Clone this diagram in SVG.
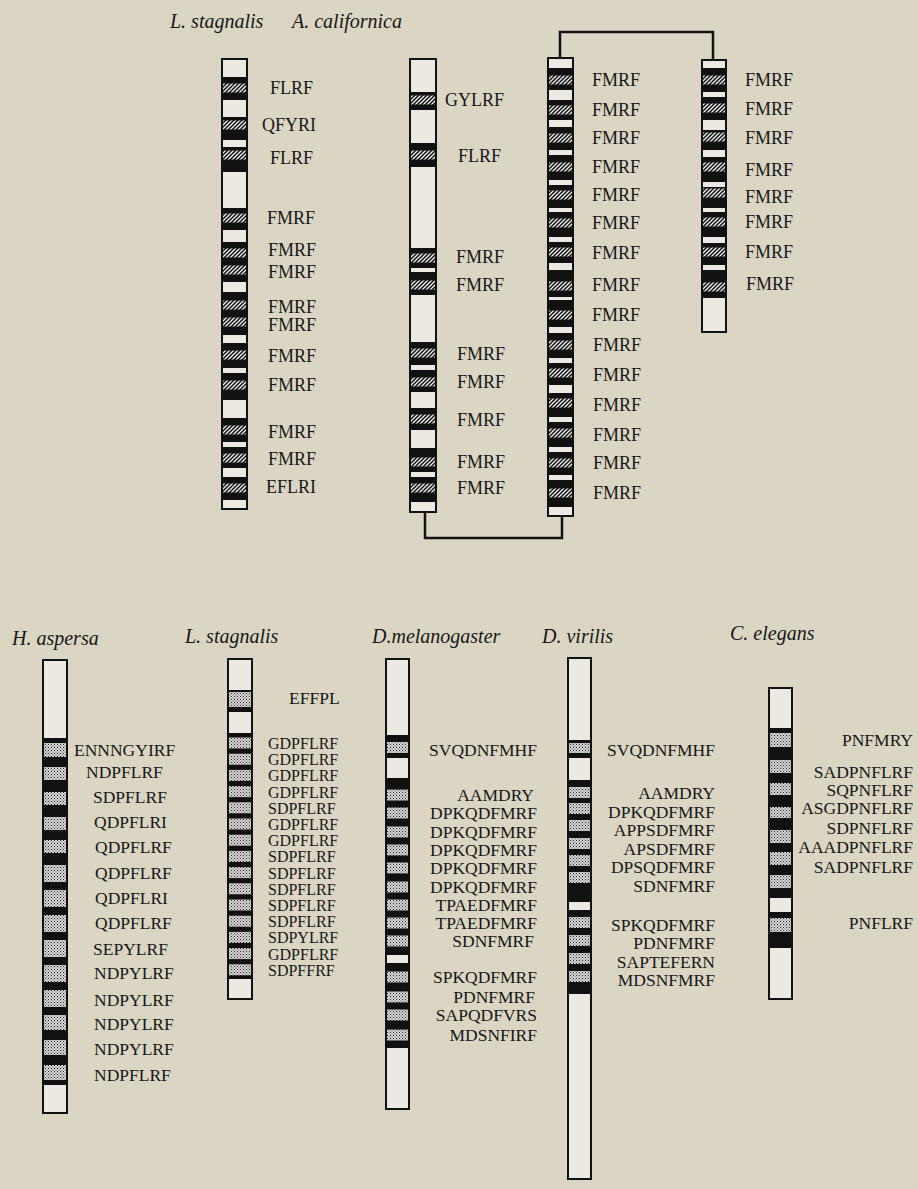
<svg xmlns="http://www.w3.org/2000/svg" width="918" height="1189" viewBox="0 0 918 1189">
<style>
.lbl{font-family:"Liberation Serif",serif;font-size:18px;fill:#161616}
.lb{font-family:"Liberation Serif",serif;font-size:17.5px;fill:#161616}
.ls{font-family:"Liberation Serif",serif;font-size:16px;fill:#161616}
.e{text-anchor:end}
.ttl{font-family:"Liberation Serif",serif;font-size:20px;font-style:italic;fill:#161616}
.bar{fill:#111}
.w{fill:#ebe9e1}
.h{fill:url(#hatch)}
.s{fill:url(#stip)}
.conn{stroke:#111;stroke-width:2.5;fill:none}
</style>
<defs>
<pattern id="hatch" width="4" height="4" patternUnits="userSpaceOnUse">
<rect width="4" height="4" fill="#111"/>
<path d="M0,4L4,0M-1,1L1,-1M3,5L5,3" stroke="#f2f2f2" stroke-width="1.3"/>
</pattern>
<pattern id="stip" width="3" height="3" patternUnits="userSpaceOnUse">
<rect width="3" height="3" fill="#d8d8d8"/>
<rect x="0" y="0" width="1" height="1" fill="#222"/>
<rect x="1.5" y="1.5" width="1" height="1" fill="#444"/>
</pattern>
</defs>
<rect width="918" height="1189" fill="#dbd6c4"/>

<g id="titles">
<text class="ttl" x="170" y="28">L. stagnalis</text>
<text class="ttl" x="292" y="28">A. californica</text>
<text class="ttl" x="12" y="645">H. aspersa</text>
<text class="ttl" x="185" y="643">L. stagnalis</text>
<text class="ttl" x="372" y="643">D.melanogaster</text>
<text class="ttl" x="542" y="643">D. virilis</text>
<text class="ttl" x="730" y="640">C. elegans</text>
</g>

<g id="connectors">
<path class="conn" d="M425,513V538H562V517"/>
<path class="conn" d="M560,57V32H713V59"/>
</g>

<g id="lstag-top">
<rect class="bar" x="221" y="58" width="27" height="452"/>
<g class="w">
<rect x="223" y="60" width="23" height="17"/><rect x="223" y="100" width="23" height="17"/>
<rect x="223" y="140" width="23" height="7"/><rect x="223" y="172" width="23" height="36"/>
<rect x="223" y="230" width="23" height="12"/><rect x="223" y="282" width="23" height="10"/>
<rect x="223" y="335" width="23" height="8"/><rect x="223" y="368" width="23" height="5"/>
<rect x="223" y="400" width="23" height="18"/><rect x="223" y="442" width="23" height="5"/>
<rect x="223" y="468" width="23" height="9"/><rect x="223" y="500" width="23" height="8"/>
</g>
<g class="h">
<rect x="223" y="83.5" width="23" height="9"/><rect x="223" y="120.5" width="23" height="9"/>
<rect x="223" y="150.5" width="23" height="9"/><rect x="223" y="213.5" width="23" height="9"/>
<rect x="223" y="248.5" width="23" height="9"/><rect x="223" y="265.5" width="23" height="9"/>
<rect x="223" y="300.5" width="23" height="9"/><rect x="223" y="317.5" width="23" height="9"/>
<rect x="223" y="350.5" width="23" height="9"/><rect x="223" y="380.5" width="23" height="9"/>
<rect x="223" y="425.5" width="23" height="9"/><rect x="223" y="453.5" width="23" height="9"/>
<rect x="223" y="483.5" width="23" height="9"/>
</g>
<g class="lbl">
<text x="270" y="94">FLRF</text><text x="262" y="131">QFYRI</text><text x="270" y="164">FLRF</text>
<text x="267" y="224">FMRF</text><text x="268" y="256">FMRF</text><text x="268" y="278">FMRF</text>
<text x="268" y="313">FMRF</text><text x="268" y="331">FMRF</text><text x="268" y="362">FMRF</text>
<text x="268" y="391">FMRF</text><text x="268" y="438">FMRF</text><text x="268" y="465">FMRF</text>
<text x="266" y="493">EFLRI</text>
</g>
</g>

<g id="acal-1">
<rect class="bar" x="409" y="58" width="28" height="455"/>
<g class="w">
<rect x="411" y="60" width="24" height="32"/><rect x="411" y="110" width="24" height="33"/>
<rect x="411" y="167" width="24" height="81"/><rect x="411" y="268" width="24" height="4"/>
<rect x="411" y="295" width="24" height="47"/><rect x="411" y="365" width="24" height="5"/>
<rect x="411" y="392" width="24" height="16"/><rect x="411" y="430" width="24" height="18"/>
<rect x="411" y="472" width="24" height="5"/><rect x="411" y="502" width="24" height="9"/>
</g>
<g class="h">
<rect x="411" y="95.5" width="24" height="9"/><rect x="411" y="150.5" width="24" height="9"/>
<rect x="411" y="253.5" width="24" height="9"/><rect x="411" y="280.5" width="24" height="9"/>
<rect x="411" y="348.5" width="24" height="9"/><rect x="411" y="377.5" width="24" height="9"/>
<rect x="411" y="414.5" width="24" height="9"/><rect x="411" y="457.5" width="24" height="9"/>
<rect x="411" y="483.5" width="24" height="9"/>
</g>
<g class="lbl">
<text x="445" y="106">GYLRF</text><text x="458" y="162">FLRF</text>
<text x="456" y="263">FMRF</text><text x="456" y="291">FMRF</text><text x="457" y="360">FMRF</text>
<text x="457" y="388">FMRF</text><text x="457" y="426">FMRF</text><text x="457" y="468">FMRF</text>
<text x="457" y="494">FMRF</text>
</g>
</g>

<g id="acal-2">
<rect class="bar" x="547" y="57" width="27" height="460"/>
<g class="w">
<rect x="549" y="59" width="23" height="9"/><rect x="549" y="90" width="23" height="10"/>
<rect x="549" y="120" width="23" height="7"/><rect x="549" y="150" width="23" height="5"/>
<rect x="549" y="180" width="23" height="5"/><rect x="549" y="208" width="23" height="4"/>
<rect x="549" y="237" width="23" height="5"/><rect x="549" y="263" width="23" height="7"/>
<rect x="549" y="297" width="23" height="3"/><rect x="549" y="327" width="23" height="6"/>
<rect x="549" y="358" width="23" height="5"/><rect x="549" y="385" width="23" height="8"/>
<rect x="549" y="417" width="23" height="5"/><rect x="549" y="447" width="23" height="5"/>
<rect x="549" y="475" width="23" height="5"/><rect x="549" y="507" width="23" height="8"/>
</g>
<g class="h">
<rect x="549" y="75.5" width="23" height="9"/><rect x="549" y="105.5" width="23" height="9"/>
<rect x="549" y="133.5" width="23" height="9"/><rect x="549" y="162.5" width="23" height="9"/>
<rect x="549" y="190.5" width="23" height="9"/><rect x="549" y="218.5" width="23" height="9"/>
<rect x="549" y="247.5" width="23" height="9"/><rect x="549" y="281.5" width="23" height="9"/>
<rect x="549" y="310.5" width="23" height="9"/><rect x="549" y="340.5" width="23" height="9"/>
<rect x="549" y="368.5" width="23" height="9"/><rect x="549" y="398.5" width="23" height="9"/>
<rect x="549" y="428.5" width="23" height="9"/><rect x="549" y="458.5" width="23" height="9"/>
<rect x="549" y="488.5" width="23" height="9"/>
</g>
<g class="lbl">
<text x="592" y="86">FMRF</text><text x="592" y="116">FMRF</text><text x="592" y="144">FMRF</text>
<text x="592" y="173">FMRF</text><text x="592" y="201">FMRF</text><text x="592" y="229">FMRF</text>
<text x="592" y="259">FMRF</text><text x="592" y="291">FMRF</text><text x="592" y="321">FMRF</text>
<text x="593" y="351">FMRF</text><text x="593" y="381">FMRF</text><text x="593" y="411">FMRF</text>
<text x="593" y="441">FMRF</text><text x="593" y="469">FMRF</text><text x="593" y="499">FMRF</text>
</g>
</g>

<g id="acal-3">
<rect class="bar" x="701" y="59" width="26" height="274"/>
<g class="w">
<rect x="703" y="61" width="22" height="7"/><rect x="703" y="92" width="22" height="5"/>
<rect x="703" y="120" width="22" height="10"/><rect x="703" y="150" width="22" height="7"/>
<rect x="703" y="182" width="22" height="5"/><rect x="703" y="208" width="22" height="4"/>
<rect x="703" y="237" width="22" height="6"/><rect x="703" y="265" width="22" height="5"/>
<rect x="703" y="298" width="22" height="33"/>
</g>
<g class="h">
<rect x="703" y="75.5" width="22" height="9"/><rect x="703" y="103.5" width="22" height="9"/>
<rect x="703" y="132.5" width="22" height="9"/><rect x="703" y="162.5" width="22" height="9"/>
<rect x="703" y="188.5" width="22" height="9"/><rect x="703" y="217.5" width="22" height="9"/>
<rect x="703" y="247.5" width="22" height="9"/><rect x="703" y="282.5" width="22" height="9"/>
</g>
<g class="lbl">
<text x="745" y="86">FMRF</text><text x="745" y="115">FMRF</text><text x="745" y="144">FMRF</text>
<text x="745" y="176">FMRF</text><text x="745" y="203">FMRF</text><text x="745" y="228">FMRF</text>
<text x="745" y="258">FMRF</text><text x="746" y="290">FMRF</text>
</g>
</g>

<g id="hasp">
<rect class="bar" x="42" y="659" width="26" height="455"/>
<g class="w"><rect x="44" y="661" width="22" height="77"/><rect x="44" y="1085" width="22" height="27"/></g>
<g class="s">
<rect x="44" y="743" width="22" height="14"/><rect x="44" y="767" width="22" height="13"/>
<rect x="44" y="792" width="22" height="13"/><rect x="44" y="817" width="22" height="13"/>
<rect x="44" y="840" width="22" height="13"/><rect x="44" y="865" width="22" height="17"/>
<rect x="44" y="890" width="22" height="17"/><rect x="44" y="915" width="22" height="17"/>
<rect x="44" y="940" width="22" height="17"/><rect x="44" y="965" width="22" height="17"/>
<rect x="44" y="990" width="22" height="17"/><rect x="44" y="1015" width="22" height="15"/>
<rect x="44" y="1040" width="22" height="15"/><rect x="44" y="1065" width="22" height="15"/>
</g>
<g class="lb">
<text x="74" y="756">ENNNGYIRF</text><text x="86" y="778">NDPFLRF</text><text x="93" y="803">SDPFLRF</text>
<text x="94" y="828">QDPFLRI</text><text x="95" y="853">QDPFLRF</text><text x="95" y="879">QDPFLRF</text>
<text x="95" y="904">QDPFLRI</text><text x="95" y="929">QDPFLRF</text><text x="93" y="955">SEPYLRF</text>
<text x="94" y="979">NDPYLRF</text><text x="94" y="1006">NDPYLRF</text><text x="94" y="1030">NDPYLRF</text>
<text x="94" y="1055">NDPYLRF</text><text x="94" y="1081">NDPFLRF</text>
</g>
</g>

<g id="lstag-bottom">
<rect class="bar" x="227" y="658" width="26" height="342"/>
<g class="w"><rect x="229" y="660" width="22" height="30"/><rect x="229" y="712" width="22" height="21"/><rect x="229" y="979" width="22" height="19"/></g>
<g class="s">
<rect x="229" y="692" width="22" height="15"/>
<rect x="229" y="737.5" width="22" height="11"/><rect x="229" y="753.7" width="22" height="11"/>
<rect x="229" y="769.9" width="22" height="11"/><rect x="229" y="786.1" width="22" height="11"/>
<rect x="229" y="802.3" width="22" height="11"/><rect x="229" y="818.5" width="22" height="11"/>
<rect x="229" y="834.7" width="22" height="11"/><rect x="229" y="850.9" width="22" height="11"/>
<rect x="229" y="867.1" width="22" height="11"/><rect x="229" y="883.3" width="22" height="11"/>
<rect x="229" y="899.5" width="22" height="11"/><rect x="229" y="915.7" width="22" height="11"/>
<rect x="229" y="931.9" width="22" height="11"/><rect x="229" y="948.1" width="22" height="11"/>
<rect x="229" y="964.3" width="22" height="11"/>
</g>
<text class="lb" x="289" y="704">EFFPL</text>
<g class="ls">
<text x="268" y="749">GDPFLRF</text><text x="268" y="765.2">GDPFLRF</text><text x="268" y="781.4">GDPFLRF</text>
<text x="268" y="797.6">GDPFLRF</text><text x="268" y="813.8">SDPFLRF</text><text x="268" y="830">GDPFLRF</text>
<text x="268" y="846.2">GDPFLRF</text><text x="268" y="862.4">SDPFLRF</text><text x="268" y="878.6">SDPFLRF</text>
<text x="268" y="894.8">SDPFLRF</text><text x="268" y="911">SDPFLRF</text><text x="268" y="927.2">SDPFLRF</text>
<text x="268" y="943.4">SDPYLRF</text><text x="268" y="959.6">GDPFLRF</text><text x="268" y="975.8">SDPFFRF</text>
</g>
</g>

<g id="dmel">
<rect class="bar" x="385" y="658" width="25" height="452"/>
<g class="w"><rect x="387" y="660" width="21" height="75"/><rect x="387" y="758" width="21" height="20"/><rect x="387" y="955" width="21" height="8"/><rect x="387" y="1048" width="21" height="60"/></g>
<g class="s">
<rect x="387" y="742" width="21" height="11"/>
<rect x="387" y="789.5" width="21" height="11"/><rect x="387" y="807.5" width="21" height="11"/>
<rect x="387" y="826.5" width="21" height="11"/><rect x="387" y="844.5" width="21" height="11"/>
<rect x="387" y="862.5" width="21" height="11"/><rect x="387" y="881.5" width="21" height="11"/>
<rect x="387" y="899.5" width="21" height="11"/><rect x="387" y="917.5" width="21" height="11"/>
<rect x="387" y="935.5" width="21" height="11"/><rect x="387" y="971.5" width="21" height="11"/>
<rect x="387" y="991.5" width="21" height="11"/><rect x="387" y="1009.5" width="21" height="11"/>
<rect x="387" y="1029.5" width="21" height="11"/>
</g>
<g class="lb e">
<text x="537" y="756">SVQDNFMHF</text>
<text x="534" y="801">AAMDRY</text><text x="537" y="819">DPKQDFMRF</text><text x="537" y="838">DPKQDFMRF</text>
<text x="537" y="856">DPKQDFMRF</text><text x="537" y="874">DPKQDFMRF</text><text x="537" y="893">DPKQDFMRF</text>
<text x="537" y="911">TPAEDFMRF</text><text x="537" y="929">TPAEDFMRF</text><text x="534" y="947">SDNFMRF</text>
<text x="537" y="983">SPKQDFMRF</text><text x="535" y="1003">PDNFMRF</text><text x="537" y="1021">SAPQDFVRS</text>
<text x="537" y="1041">MDSNFIRF</text>
</g>
</g>

<g id="dvir">
<rect class="bar" x="567" y="657" width="25" height="523"/>
<g class="w"><rect x="569" y="659" width="21" height="81"/><rect x="569" y="758" width="21" height="22"/><rect x="569" y="902" width="21" height="8"/><rect x="569" y="994" width="21" height="184"/></g>
<g class="s">
<rect x="569" y="743" width="21" height="10"/>
<rect x="569" y="787" width="21" height="11"/><rect x="569" y="803" width="21" height="11"/>
<rect x="569" y="820" width="21" height="11"/><rect x="569" y="838" width="21" height="11"/>
<rect x="569" y="855" width="21" height="11"/><rect x="569" y="872" width="21" height="11"/>
<rect x="569" y="917" width="21" height="11"/><rect x="569" y="935" width="21" height="11"/>
<rect x="569" y="953" width="21" height="11"/><rect x="569" y="971" width="21" height="11"/>
</g>
<g class="lb e">
<text x="715" y="756">SVQDNFMHF</text>
<text x="715" y="799">AAMDRY</text><text x="715" y="818">DPKQDFMRF</text><text x="715" y="836">APPSDFMRF</text>
<text x="715" y="855">APSDFMRF</text><text x="715" y="873">DPSQDFMRF</text><text x="715" y="892">SDNFMRF</text>
<text x="715" y="931">SPKQDFMRF</text><text x="715" y="949">PDNFMRF</text><text x="715" y="968">SAPTEFERN</text>
<text x="715" y="986">MDSNFMRF</text>
</g>
</g>

<g id="cele">
<rect class="bar" x="768" y="687" width="25" height="313"/>
<g class="w"><rect x="770" y="689" width="21" height="39"/><rect x="770" y="898" width="21" height="14"/><rect x="770" y="948" width="21" height="50"/></g>
<g class="s">
<rect x="770" y="733" width="21" height="14"/><rect x="770" y="760" width="21" height="13"/>
<rect x="770" y="783" width="21" height="12"/><rect x="770" y="807" width="21" height="11"/>
<rect x="770" y="830" width="21" height="13"/><rect x="770" y="852" width="21" height="13"/>
<rect x="770" y="875" width="21" height="13"/><rect x="770" y="918" width="21" height="14"/>
</g>
<g class="lb e">
<text x="913" y="746">PNFMRY</text><text x="913" y="778">SADPNFLRF</text><text x="913" y="796">SQPNFLRF</text>
<text x="913" y="814">ASGDPNFLRF</text><text x="913" y="834">SDPNFLRF</text><text x="913" y="853">AAADPNFLRF</text>
<text x="913" y="873">SADPNFLRF</text><text x="913" y="929">PNFLRF</text>
</g>
</g>
</svg>
